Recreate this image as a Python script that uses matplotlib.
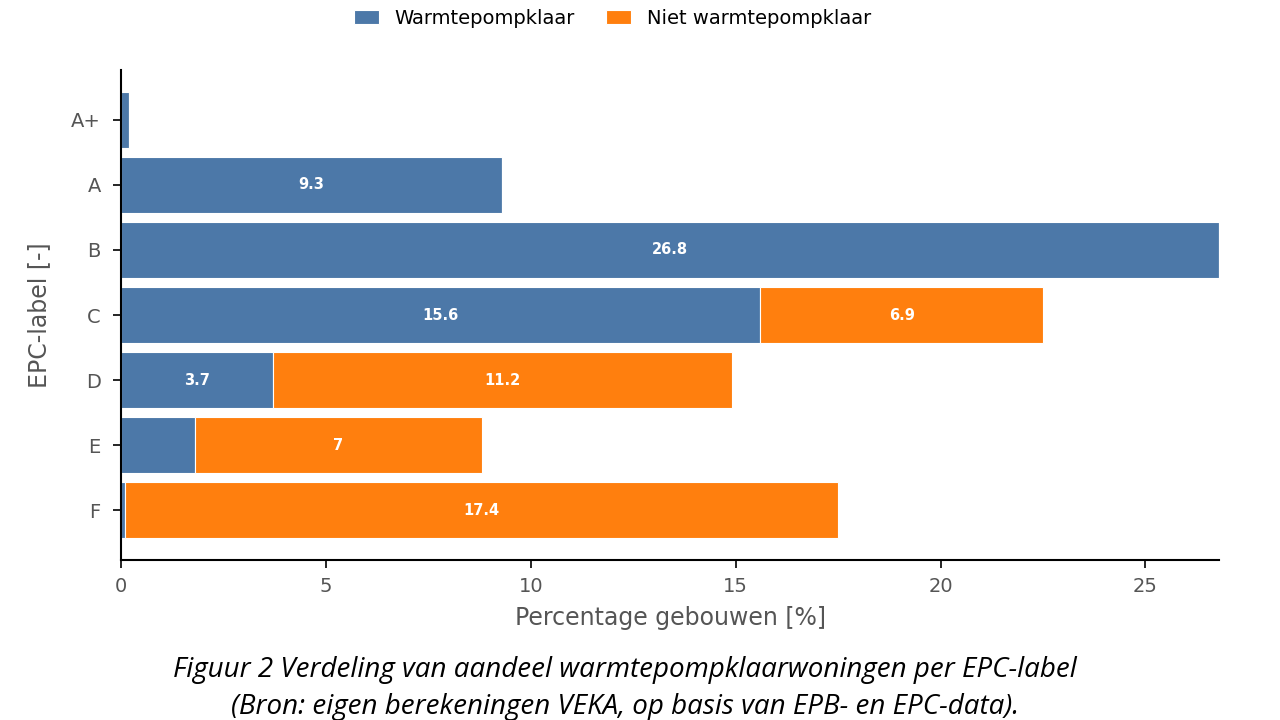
import matplotlib
matplotlib.use("Agg")
import matplotlib.pyplot as plt
import numpy as np

plt.rcParams["font.family"] = ["DejaVu Sans"]

labels = ["A+", "A", "B", "C", "D", "E", "F"]
klaar = [0.2, 9.3, 26.8, 15.6, 3.7, 1.8, 0.1]
niet_klaar = [0.0, 0.0, 0.0, 6.9, 11.2, 7.0, 17.4]

blue = "#4c78a8"
orange = "#ff7f0e"
grey = "#555555"


def fmt(v):
    return "%g" % v


fig = plt.figure(figsize=(12.8, 7.2), dpi=100)
ax = fig.add_axes([0.0945, 0.222, 0.858, 0.681])

y = np.arange(len(labels))
b1 = ax.barh(y, klaar, height=0.85, color=blue, edgecolor="white",
             linewidth=0.8, label="Warmtepompklaar")
b2 = ax.barh(y, niet_klaar, left=klaar, height=0.85, color=orange,
             edgecolor="white", linewidth=0.8, label="Niet warmtepompklaar")

# only label segments that are wide enough
for bars, vals in ((b1, klaar), (b2, niet_klaar)):
    for rect, v in zip(bars, vals):
        if v < 3:
            continue
        ax.text(rect.get_x() + rect.get_width() / 2, rect.get_y() + rect.get_height() / 2,
                fmt(v), ha="center", va="center", color="white",
                fontsize=10.5, fontweight="bold")

ax.set_yticks(y)
ax.set_yticklabels(labels)
ax.set_ylim(len(labels) - 0.23, -0.77)
ax.set_xlim(0, max(k + n for k, n in zip(klaar, niet_klaar)))
ax.set_xticks([0, 5, 10, 15, 20, 25])

ax.spines["top"].set_visible(False)
ax.spines["right"].set_visible(False)
ax.spines["left"].set_linewidth(1.5)
ax.spines["bottom"].set_linewidth(1.5)
ax.tick_params(axis="both", labelsize=14, labelcolor=grey, length=6, width=1.2)
ax.tick_params(axis="x", pad=6)
ax.tick_params(axis="y", pad=8.5)

ax.set_xlabel("Percentage gebouwen [%]", fontsize=17, color=grey, labelpad=7)
ax.set_ylabel("EPC-label [-]", fontsize=17, color=grey, labelpad=14)

fig.legend(handles=[b1, b2], loc="center", bbox_to_anchor=(0.4785, 0.975),
           ncol=2, frameon=False, fontsize=14, handlelength=1.3,
           handleheight=0.7, handletextpad=0.8, columnspacing=1.6)

fig.text(0.488, 0.069, "Figuur 2 Verdeling van aandeel warmtepompklaarwoningen per EPC-label",
         ha="center", va="center", fontsize=20, style="italic", family="Open Sans")
fig.text(0.488, 0.018, "(Bron: eigen berekeningen VEKA, op basis van EPB- en EPC-data).",
         ha="center", va="center", fontsize=20, style="italic", family="Open Sans")

fig.savefig("out.png", dpi=100)
